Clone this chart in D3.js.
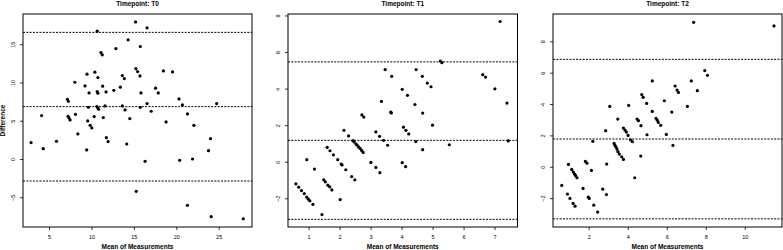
<!DOCTYPE html>
<html>
<head>
<meta charset="utf-8">
<script src="https://cdn.jsdelivr.net/npm/d3@7"></script>
<style>
  body { margin: 0; background: #fff; }
  text { font-family: "Liberation Sans", Arial, Helvetica, sans-serif; fill: #000; }
  .title, .axis-title { font-weight: bold; font-size: 6.5px; }
  .tick-label { font-size: 5.5px; }
</style>
</head>
<body>
<svg id="chart"></svg>
<script>
// Bland-Altman values
const t0Mean = [2.88, 4.32, 4.12, 5.88, 7.16, 7.28, 7.24, 7.36, 7.48, 8.04, 8.12, 8.4, 9.24, 9.48, 9.72, 9.64, 9.56, 9.84, 10.04, 9.44,
  10.32, 10.4, 10.76, 10.68, 10.76, 10.64, 10.76, 10.84, 10.68, 11.12, 11.28, 11.32, 11.72, 11.6, 11.4, 11.76, 11.96, 12.64, 12.88, 13.4,
  13.64, 13.88, 13.64, 13.96, 14.16, 14.52, 14.32, 15.2, 15.24, 15.44, 15.72, 15.76, 15.84, 15.76, 16.32, 16.56, 16.56, 17.04, 17.56, 17.88,
  18.48, 18.8, 19.56, 20.32, 20.72, 20.4, 21.32, 21.92, 22.08, 15.28, 21.32, 23.8, 24.04, 24.76, 24.12, 27.9];
const t0Diff = [2.14, 1.35, 5.67, 2.31, 7.81, 7.54, 5.58, 5.36, 5.1, 10.03, 5.84, 3.27, 9.55, 11.08, 8.63, 6.76, 4.97, 4.4, 4.06, 1.18,
  5.54, 11.34, 10.64, 8.81, 8.59, 6.85, 6.67, 6.5, 16.7, 13.91, 13.61, 9.51, 8.77, 6.93, 5.41, 2.79, 2.27, 8.98, 14.43, 9.38,
  10.9, 10.51, 6.93, 6.41, 1.96, 5.28, 15.57, 17.92, 11.82, 11.43, 10.86, 14.7, 8.63, 6.76, -0.31, 17.14, 7.24, 6.24, 9.25, 8.63,
  11.51, 4.84, 11.38, 7.85, 7.06, -0.17, 5.89, 0.0, 4.4, -4.23, -6.06, 1.09, 2.66, 7.24, -7.54, -7.81];

const t1Mean = [0.59, 0.68, 0.77, 0.86, 0.94, 0.99, 1.04, 1.14, 0.94, 1.19, 1.43, 1.49, 1.54, 1.62, 1.68, 1.75, 1.6, 1.69, 1.8, 1.94,
  2.05, 2.08, 2.2, 2.39, 2.49, 2.02, 2.14, 2.29, 2.43, 2.47, 2.53, 2.57, 2.61, 2.66, 2.71, 2.76, 2.72, 2.78, 3.01, 3.17,
  3.3, 3.17, 3.29, 3.42, 3.55, 3.35, 3.47, 3.65, 3.67, 3.68, 4.02, 4.19, 4.06, 4.14, 4.23, 4.02, 4.13, 4.43, 4.46, 4.47,
  4.67, 4.68, 4.68, 4.83, 4.95, 5.0, 5.25, 5.3, 5.54, 6.62, 6.71, 7.01, 7.18, 7.4, 7.44];
const t1Diff = [-1.21, -1.39, -1.58, -1.74, -1.94, -2.05, -2.14, -2.33, 0.11, -0.4, -2.89, -0.99, -1.1, -1.28, -1.37, -1.54, 0.79, 0.6, 0.38, 0.11,
  -0.13, -0.18, -0.44, -0.81, -0.99, -2.07, 1.72, 1.41, 1.15, 1.08, 0.97, 0.9, 0.81, 0.73, 0.62, 0.51, 2.56, 2.44, -0.04, -0.31,
  -0.6, 1.63, 1.39, 1.17, 0.9, 3.3, 5.04, 2.71, 2.67, 4.67, 3.96, 3.63, 1.89, 1.72, 1.52, -0.05, -0.27, 3.13, 1.1, 5.04,
  4.67, 2.66, 0.66, 4.3, 4.1, 2.0, 5.51, 5.42, 0.93, 4.76, 4.63, 3.99, 7.67, 3.21, 1.14];

const t2Mean = [0.62, 0.91, 1.04, 1.2, 1.3, 0.96, 1.13, 1.21, 1.28, 1.33, 1.4, 1.71, 1.83, 1.91, 1.98, 2.03, 2.14, 2.21, 2.26, 2.46,
  2.72, 2.87, 2.91, 2.92, 3.08, 3.3, 3.35, 3.4, 3.45, 3.5, 3.49, 3.57, 3.69, 3.78, 3.78, 3.86, 3.93, 4.02, 4.14, 4.24,
  4.05, 4.36, 4.48, 4.55, 4.68, 4.67, 4.72, 4.79, 4.97, 4.99, 5.26, 5.26, 5.45, 5.52, 5.57, 5.69, 5.88, 5.98, 6.26, 6.32,
  6.43, 6.53, 6.6, 7.06, 7.26, 7.38, 7.57, 7.95, 8.09, 11.5];
const t2Diff = [-1.19, -1.74, -2.02, -2.34, -2.51, 0.15, -0.17, -0.34, -0.47, -0.57, -0.7, -1.38, 0.34, 0.23, -1.94, -2.02, -0.23, 1.62, -2.45, -2.89,
  -1.43, 2.3, -1.77, 0.17, 3.85, 1.49, 1.36, 1.26, 1.13, 0.96, 3.04, 0.81, 0.64, 0.47, 2.47, 2.34, 2.21, 2.0, 1.72, 1.6,
  3.91, -0.7, 3.04, 2.94, 2.62, 0.68, 4.6, 4.43, 4.04, 2.04, 5.47, 3.53, 3.09, 2.96, 2.83, 2.64, 4.21, 2.06, 3.49, 1.36,
  5.15, 4.89, 4.74, 3.85, 5.47, 9.21, 4.85, 6.13, 5.83, 8.98];

// upper limit, mean difference, lower limit
const t0Limits = [16.55, 6.84, -2.88];
const t1Limits = [5.46, 1.17, -3.15];
const t2Limits = [6.85, 1.77, -3.32];

const timepoints = ["T0", "T1", "T2"];
const t0XTicks = [5, 10, 15, 20, 25], t0YTicks = [-5, 0, 5, 10, 15];
const t1XTicks = [1, 2, 3, 4, 5, 6, 7], t1YTicks = [-2, 0, 2, 4, 6, 8];
const t2XTicks = [2, 4, 6, 8, 10], t2YTicks = [-2, 0, 2, 4, 6, 8];

const panels = [
  { tp: timepoints[0], mean: t0Mean, diff: t0Diff, limits: t0Limits, xTicks: t0XTicks, yTicks: t0YTicks,
    left: 23, right: 252, xDomain: [1.93, 28.93], yDomain: [-8.89, 18.95] },
  { tp: timepoints[1], mean: t1Mean, diff: t1Diff, limits: t1Limits, xTicks: t1XTicks, yTicks: t1YTicks,
    left: 288, right: 517.5, xDomain: [0.335, 7.74], yDomain: [-3.57, 8.08] },
  { tp: timepoints[2], mean: t2Mean, diff: t2Diff, limits: t2Limits, xTicks: t2XTicks, yTicks: t2YTicks,
    left: 553, right: 782, xDomain: [0.17, 11.91], yDomain: [-3.84, 9.74] }
];

const plotTop = 14, plotBottom = 227;

const svg = d3.select("#chart").attr("width", 783).attr("height", 250);

panels.forEach((p, i) => {
  const g = svg.append("g");

  const x = d3.scaleLinear().domain(p.xDomain).range([p.left, p.right]);
  const y = d3.scaleLinear().domain(p.yDomain).range([plotBottom, plotTop]);

  // dashed limits of agreement
  g.selectAll(".limit")
    .data(p.limits)
    .enter().append("line")
    .attr("x1", p.left).attr("x2", p.right)
    .attr("y1", d => y(d)).attr("y2", d => y(d))
    .attr("stroke", "#000").attr("stroke-width", 1)
    .attr("stroke-dasharray", "2,1.3");

  // points
  g.selectAll(".pt")
    .data(p.mean.map((m, j) => ({ m: m, d: p.diff[j] })))
    .enter().append("circle")
    .attr("cx", d => x(d.m)).attr("cy", d => y(d.d))
    .attr("r", 1.6).attr("fill", "#000");

  // axes
  const xAxis = g.append("g")
    .attr("transform", `translate(0, ${plotBottom})`)
    .call(d3.axisBottom(x).tickValues(p.xTicks).tickSize(3).tickPadding(5));
  xAxis.select(".domain").remove();
  xAxis.selectAll("text").attr("class", "tick-label").attr("font-family", null).attr("font-size", null);

  const yAxis = g.append("g")
    .attr("transform", `translate(${p.left}, 0)`)
    .call(d3.axisLeft(y).tickValues(p.yTicks).tickSize(3));
  yAxis.select(".domain").remove();
  yAxis.selectAll("text")
    .attr("class", "tick-label").attr("font-family", null).attr("font-size", null)
    .attr("x", null).attr("dy", null)
    .attr("text-anchor", "middle")
    .attr("transform", "translate(-8, 0) rotate(-90)");

  g.selectAll(".tick line").attr("stroke", "#000").attr("stroke-width", 0.8);

  // frame
  g.append("rect")
    .attr("x", p.left).attr("y", plotTop)
    .attr("width", p.right - p.left).attr("height", plotBottom - plotTop)
    .attr("fill", "none").attr("stroke", "#000").attr("stroke-width", 1);

  g.append("text")
    .attr("class", "title")
    .attr("x", (p.left + p.right) / 2).attr("y", 6)
    .attr("text-anchor", "middle")
    .text("Timepoint: " + p.tp);

  g.append("text")
    .attr("class", "axis-title")
    .attr("x", (p.left + p.right) / 2).attr("y", 249)
    .attr("text-anchor", "middle")
    .text("Mean of Measurements");

  if (i === 0) {
    g.append("text")
      .attr("class", "axis-title")
      .attr("transform", `translate(5, ${(plotTop + plotBottom) / 2}) rotate(-90)`)
      .attr("text-anchor", "middle")
      .text("Difference");
  }
});
</script>
</body>
</html>
